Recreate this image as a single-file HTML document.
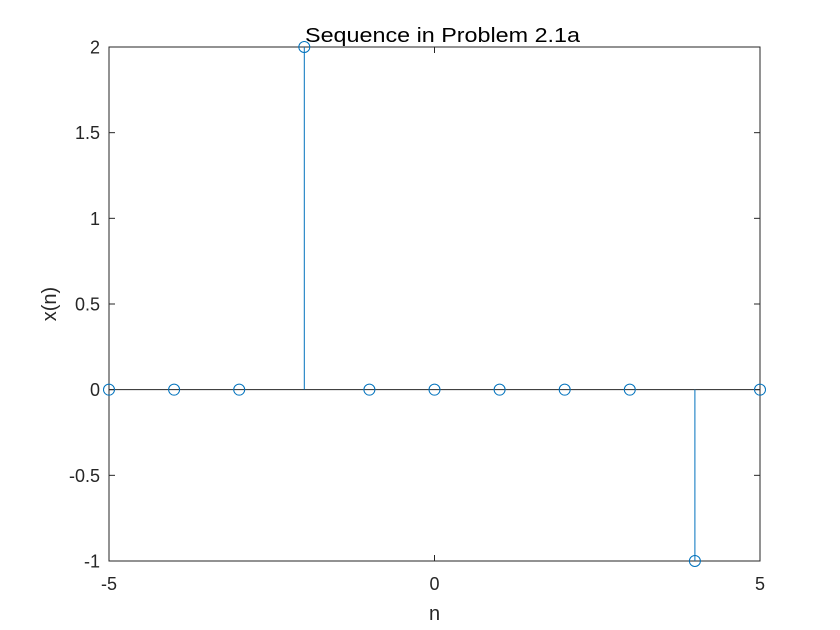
<!DOCTYPE html>
<html>
<head>
<meta charset="utf-8">
<style>
  html, body { margin: 0; padding: 0; background: #ffffff; }
  svg { display: block; font-family: "Liberation Sans", Arial, sans-serif; }
</style>
</head>
<body>
<svg id="chart" width="840" height="630" viewBox="0 0 840 630">
  <rect x="0" y="0" width="840" height="630" fill="#ffffff"/>
  <g id="plot"></g>
</svg>
<script>
const nValues = [-5, -4, -3, -2, -1, 0, 1, 2, 3, 4, 5];
const xValues = [0, 0, 0, 2, 0, 0, 0, 0, 0, -1, 0];
const xTicks = [-5, 0, 5];
const yTicks = [-1, -0.5, 0, 0.5, 1, 1.5, 2];
const yTickLabels = ['-1', '-0.5', '0', '0.5', '1', '1.5', '2'];
const titleText = 'Sequence in Problem 2.1a';

const L = 109, R = 760, T = 47, B = 561;
const xMin = -5, xMax = 5, yMin = -1, yMax = 2;
function sx(v) { return L + (v - xMin) / (xMax - xMin) * (R - L); }
function sy(v) { return B - (v - yMin) / (yMax - yMin) * (B - T); }

const NS = 'http://www.w3.org/2000/svg';
const g = document.getElementById('plot');
function mk(tag, attrs, parent) {
  const e = document.createElementNS(NS, tag);
  for (const k in attrs) e.setAttribute(k, attrs[k]);
  (parent || g).appendChild(e);
  return e;
}

const box = mk('rect', {x: L, y: T, width: R - L, height: B - T, fill: 'none', stroke: '#262626', 'stroke-width': 1});



yTicks.forEach((v, i) => {
  const y = sy(v);
  const t1 = mk('line', {x1: L, x2: L + 6, y1: y, y2: y, stroke: '#262626'});
  
  
  const t2 = mk('line', {x1: R - 6, x2: R, y1: y, y2: y, stroke: '#262626'});
  
  
  const lb = mk('text', {x: L - 9, y: y + 6.5, 'text-anchor': 'end', 'font-size': 18, fill: '#262626'});
  lb.textContent = yTickLabels[i];
  
  
});

xTicks.forEach(v => {
  const x = sx(v);
  const t1 = mk('line', {x1: x, x2: x, y1: B, y2: B - 6, stroke: '#262626'});
  
  
  const t2 = mk('line', {x1: x, x2: x, y1: T, y2: T + 6, stroke: '#262626'});
  
  
  const lb = mk('text', {x: x, y: B + 29, 'text-anchor': 'middle', 'font-size': 18, fill: '#262626'});
  lb.textContent = String(v);
  
  
});

const base = mk('line', {x1: L, x2: R, y1: sy(0), y2: sy(0), stroke: '#262626', 'stroke-width': 1});



nValues.forEach((n, i) => {
  const x = sx(n), y = sy(xValues[i]);
  const st = mk('line', {x1: x, x2: x, y1: sy(0), y2: y, stroke: '#0072BD', 'stroke-width': 1});
  
  
  const c = mk('circle', {cx: x, cy: y, r: 5.5, fill: 'none', stroke: '#0072BD', 'stroke-width': 1});
  
  
});

const title = mk('text', {x: 305, y: T - 5, 'font-size': 20, fill: '#000', textLength: 275, lengthAdjust: 'spacingAndGlyphs'});
title.textContent = titleText;



const xl = mk('text', {x: (L + R) / 2, y: 620, 'text-anchor': 'middle', 'font-size': 20, fill: '#262626'});
xl.textContent = 'n';



const yl = mk('text', {x: 56, y: (T + B) / 2, 'text-anchor': 'middle', 'font-size': 20, fill: '#262626', transform: 'rotate(-90 56 ' + ((T + B) / 2) + ')'});
yl.textContent = 'x(n)';


</script>
</body>
</html>
